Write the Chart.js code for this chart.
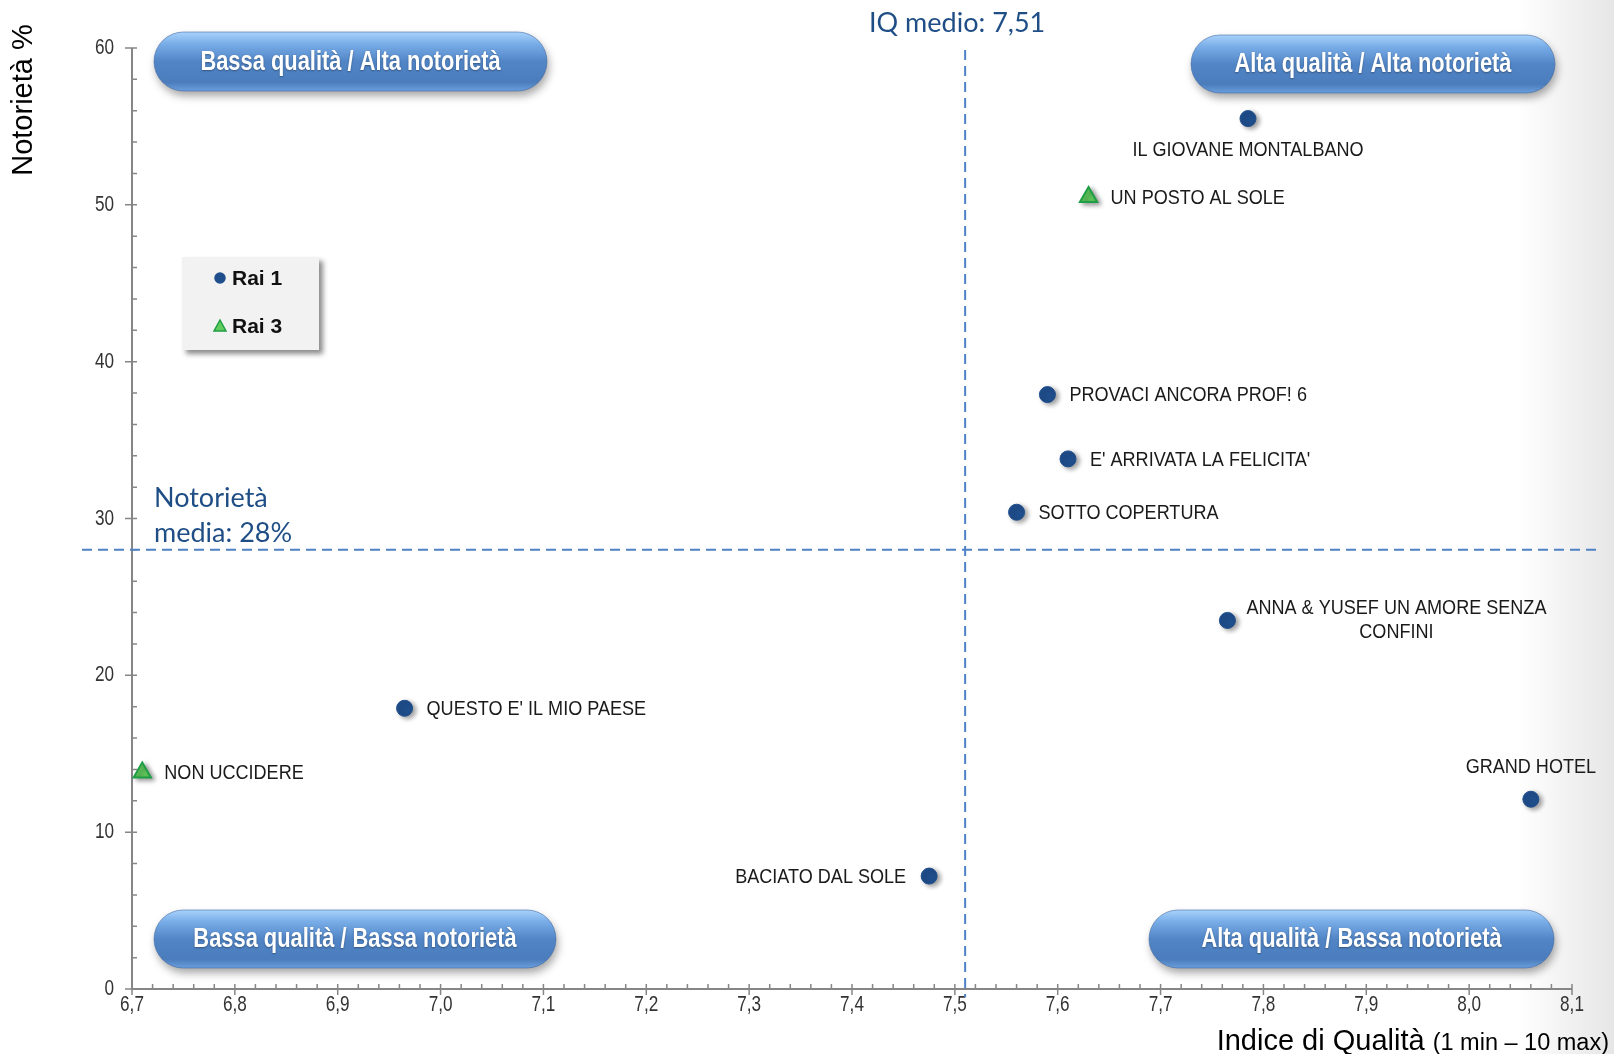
<!DOCTYPE html>
<html>
<head>
<meta charset="utf-8">
<script src="https://cdn.jsdelivr.net/npm/chart.js@4.4.1/dist/chart.umd.min.js"></script>
<style>
  html, body { margin: 0; padding: 0; }
  body {
    width: 1614px; height: 1054px; overflow: hidden;
    background: linear-gradient(to right, #ffffff 0%, #ffffff 94%, #e6e6e6 100%);
  }
  #wrap { position: relative; width: 1614px; height: 1054px; }
</style>
</head>
<body>
<div id="wrap"><canvas id="chart" width="1614" height="1054"></canvas></div>
<script>
// --- data ---
const rai1Names = ['IL GIOVANE MONTALBANO', 'PROVACI ANCORA PROF! 6', "E' ARRIVATA LA FELICITA'",
  'SOTTO COPERTURA', 'ANNA & YUSEF UN AMORE SENZA|CONFINI', "QUESTO E' IL MIO PAESE",
  'GRAND HOTEL', 'BACIATO DAL SOLE'];
const rai1Quality = [7.785, 7.59, 7.61, 7.56, 7.765, 6.965, 8.06, 7.475];
const rai1Notoriety = [55.5, 37.9, 33.8, 30.4, 23.5, 17.9, 12.1, 7.2];

const rai3Names = ['UN POSTO AL SOLE', 'NON UCCIDERE'];
const rai3Quality = [7.63, 6.71];
const rai3Notoriety = [50.5, 13.8];

const xTicks = [6.7, 6.8, 6.9, 7.0, 7.1, 7.2, 7.3, 7.4, 7.5, 7.6, 7.7, 7.8, 7.9, 8.0, 8.1];
const yTicks = [0, 10, 20, 30, 40, 50, 60];

const iqMedio = 7.51;
const notorietaMedia = 28;

const quadrantLabels = ['Bassa qualità / Alta notorietà', 'Alta qualità / Alta notorietà',
  'Bassa qualità / Bassa notorietà', 'Alta qualità / Bassa notorietà'];

// where each point's label sits relative to the marker
const rai1LabelPos = ['below', 'right', 'right', 'right', 'right2', 'right', 'above', 'left'];
const rai3LabelPos = ['right', 'right'];

const SANS = "'Liberation Sans', Arial, sans-serif";
const CALI = "Lato, 'Open Sans', sans-serif";
const AXIS = '#868686';
const DASH = '#4f81c7';

const toPoints = (xs, ys) => xs.map((x, i) => ({ x: x, y: ys[i] }));
const comma = (v, d) => v.toFixed(d).replace('.', ',');

// Arial-Narrow look: Liberation Sans squeezed horizontally
function narrow(ctx, text, x, y, sx) {
  ctx.save();
  ctx.translate(x, y);
  ctx.scale(sx, 1);
  ctx.fillText(text, 0, 0);
  ctx.restore();
}

function pill(ctx, x, y, w, h, text) {
  const r = h / 2;
  ctx.save();
  ctx.shadowColor = 'rgba(0,0,0,0.35)';
  ctx.shadowBlur = 9;
  ctx.shadowOffsetX = 2;
  ctx.shadowOffsetY = 5;
  ctx.beginPath();
  ctx.roundRect(x, y, w, h, r);
  const g = ctx.createLinearGradient(0, y, 0, y + h);
  g.addColorStop(0, '#a8d2fb');
  g.addColorStop(0.2, '#79ade8');
  g.addColorStop(0.5, '#5185c6');
  g.addColorStop(0.85, '#4b7dbd');
  g.addColorStop(1, '#6a9edc');
  ctx.fillStyle = g;
  ctx.fill();
  ctx.restore();
  ctx.save();
  ctx.beginPath();
  ctx.roundRect(x, y, w, h, r);
  ctx.strokeStyle = 'rgba(60,100,160,0.55)';
  ctx.lineWidth = 1;
  ctx.stroke();
  ctx.font = 'bold 27px ' + SANS;
  ctx.fillStyle = '#ffffff';
  ctx.textAlign = 'center';
  ctx.textBaseline = 'middle';
  ctx.shadowColor = 'rgba(0,0,0,0.35)';
  ctx.shadowBlur = 2;
  ctx.shadowOffsetY = 1;
  narrow(ctx, text, x + w / 2, y + h / 2 + 1, 0.81);
  ctx.restore();
}

const overlay = {
  id: 'overlay',
  beforeDatasetsDraw(chart) {
    const { ctx, chartArea: a, scales: { x, y } } = chart;
    ctx.save();
    // axes
    ctx.strokeStyle = AXIS;
    ctx.lineWidth = 2;
    ctx.beginPath();
    ctx.moveTo(a.left, a.top);
    ctx.lineTo(a.left, a.bottom);
    ctx.lineTo(a.right, a.bottom);
    ctx.stroke();
    ctx.lineWidth = 1.5;
    ctx.beginPath();
    for (let i = 0; i < yTicks.length; i++) {
      const py = y.getPixelForValue(yTicks[i]);
      ctx.moveTo(a.left - 7, py); ctx.lineTo(a.left + 5, py);
      if (i < yTicks.length - 1) {
        for (let k = 1; k < 5; k++) {
          const my = y.getPixelForValue(yTicks[i] + (yTicks[i + 1] - yTicks[i]) * k / 5);
          ctx.moveTo(a.left, my); ctx.lineTo(a.left + 5, my);
        }
      }
    }
    for (let i = 0; i < xTicks.length; i++) {
      const px = x.getPixelForValue(xTicks[i]);
      ctx.moveTo(px, a.bottom - 5); ctx.lineTo(px, a.bottom + 6);
      if (i < xTicks.length - 1) {
        for (let k = 1; k < 5; k++) {
          const mx = x.getPixelForValue(xTicks[i] + (xTicks[i + 1] - xTicks[i]) * k / 5);
          ctx.moveTo(mx, a.bottom); ctx.lineTo(mx, a.bottom - 5);
        }
      }
    }
    ctx.stroke();

    // tick labels
    ctx.fillStyle = '#333';
    ctx.font = '22px ' + SANS;
    ctx.textBaseline = 'middle';
    ctx.textAlign = 'right';
    yTicks.forEach(v => narrow(ctx, String(v), a.left - 18, y.getPixelForValue(v), 0.78));
    ctx.textAlign = 'center';
    xTicks.forEach(v => narrow(ctx, comma(v, 1), x.getPixelForValue(v), a.bottom + 16, 0.78));

    // average lines
    ctx.strokeStyle = DASH;
    ctx.lineWidth = 2;
    ctx.setLineDash([10, 6]);
    const vx = x.getPixelForValue(iqMedio);
    const hy = y.getPixelForValue(notorietaMedia);
    ctx.beginPath();
    ctx.moveTo(vx, a.top + 2); ctx.lineTo(vx, a.bottom + 8);
    ctx.moveTo(a.left - 50, hy); ctx.lineTo(a.right + 24, hy);
    ctx.stroke();
    ctx.setLineDash([]);

    ctx.fillStyle = '#1f4e86';
    ctx.font = '27px ' + CALI;
    ctx.textBaseline = 'middle';
    ctx.textAlign = 'center';
    ctx.fillText('IQ medio: ' + comma(iqMedio, 2), vx - 8, 23);
    ctx.textAlign = 'left';
    ctx.fillText('Notorietà', a.left + 22, hy - 52);
    ctx.fillText('media: ' + notorietaMedia + '%', a.left + 22, hy - 17);
    ctx.restore();
  },
  beforeDatasetDraw(chart) {
    const ctx = chart.ctx;
    ctx.save();
    ctx.shadowColor = 'rgba(0,0,0,0.4)';
    ctx.shadowBlur = 5;
    ctx.shadowOffsetX = 3;
    ctx.shadowOffsetY = 2;
  },
  afterDatasetDraw(chart) {
    chart.ctx.restore();
  },
  afterDatasetsDraw(chart) {
    const { ctx, chartArea: a } = chart;
    ctx.save();
    // point labels
    ctx.fillStyle = '#1a1a1a';
    ctx.font = '21px ' + SANS;
    ctx.textBaseline = 'middle';
    const sx = 0.86;
    chart.data.datasets.forEach((ds, di) => {
      const meta = chart.getDatasetMeta(di);
      meta.data.forEach((pt, j) => {
        const lines = ds.names[j].split('|');
        const pos = ds.labelPos[j];
        if (pos === 'right') {
          ctx.textAlign = 'left';
          narrow(ctx, lines[0], pt.x + 22, pt.y + 1, sx);
        } else if (pos === 'left') {
          ctx.textAlign = 'right';
          narrow(ctx, lines[0], pt.x - 23, pt.y + 1, sx);
        } else if (pos === 'below') {
          ctx.textAlign = 'center';
          narrow(ctx, lines[0], pt.x, pt.y + 32, sx);
        } else if (pos === 'above') {
          ctx.textAlign = 'center';
          narrow(ctx, lines[0], pt.x, pt.y - 32, sx);
        } else if (pos === 'right2') {
          ctx.textAlign = 'center';
          narrow(ctx, lines[0], pt.x + 169, pt.y - 12, sx);
          narrow(ctx, lines[1], pt.x + 169, pt.y + 12, sx);
        }
      });
    });

    // quadrant pills
    pill(ctx, a.left + 22, 32, 393, 59, quadrantLabels[0]);
    pill(ctx, a.right - 381, 35, 364, 58, quadrantLabels[1]);
    pill(ctx, a.left + 22, 910, 402, 58, quadrantLabels[2]);
    pill(ctx, a.right - 423, 910, 405, 58, quadrantLabels[3]);

    // legend box
    const lx = 182, ly = 257, lw = 137, lh = 93;
    ctx.save();
    ctx.shadowColor = 'rgba(0,0,0,0.45)';
    ctx.shadowBlur = 5;
    ctx.shadowOffsetX = 4;
    ctx.shadowOffsetY = 4;
    ctx.fillStyle = '#f2f2f2';
    ctx.fillRect(lx, ly, lw, lh);
    ctx.restore();
    chart.data.datasets.forEach((ds, di) => {
      const cy = ly + 21 + di * 48;
      ctx.fillStyle = ds.backgroundColor;
      ctx.strokeStyle = ds.borderColor;
      ctx.lineWidth = 1.5;
      ctx.beginPath();
      if (ds.pointStyle === 'circle') {
        ctx.arc(lx + 38, cy, 5, 0, Math.PI * 2);
      } else {
        ctx.moveTo(lx + 38, cy - 6); ctx.lineTo(lx + 44, cy + 5); ctx.lineTo(lx + 32, cy + 5); ctx.closePath();
      }
      ctx.fill(); ctx.stroke();
      ctx.fillStyle = '#111';
      ctx.font = 'bold 21px ' + SANS;
      ctx.textAlign = 'left';
      ctx.textBaseline = 'middle';
      ctx.fillText(ds.label, lx + 50, cy + 1);
    });

    // axis titles
    ctx.fillStyle = '#000';
    ctx.save();
    ctx.translate(24, 100);
    ctx.rotate(-Math.PI / 2);
    ctx.font = '29px ' + SANS;
    ctx.textAlign = 'center';
    ctx.textBaseline = 'middle';
    ctx.fillText('Notorietà %', 0, 0);
    ctx.restore();
    ctx.textBaseline = 'alphabetic';
    ctx.textAlign = 'right';
    ctx.font = '23.5px ' + SANS;
    const small = '(1 min – 10 max)';
    const sw = ctx.measureText(small).width;
    ctx.fillText(small, 1609, 1050);
    ctx.font = '29px ' + SANS;
    ctx.fillText('Indice di Qualità ', 1609 - sw, 1050);
    ctx.restore();
  }
};

const ctx = document.getElementById('chart');
const chart = new Chart(ctx, {
  type: 'scatter',
  data: {
    datasets: [
      {
        label: 'Rai 1',
        data: toPoints(rai1Quality, rai1Notoriety),
        names: rai1Names,
        labelPos: rai1LabelPos,
        pointStyle: 'circle',
        pointRadius: 8,
        pointHoverRadius: 8,
        backgroundColor: '#1f4e8c',
        borderColor: '#1f4e8c',
        borderWidth: 1,
        clip: false
      },
      {
        label: 'Rai 3',
        data: toPoints(rai3Quality, rai3Notoriety),
        names: rai3Names,
        labelPos: rai3LabelPos,
        pointStyle: 'triangle',
        pointRadius: 10,
        pointHoverRadius: 10,
        backgroundColor: '#62cc5e',
        borderColor: '#1e9e45',
        borderWidth: 2,
        clip: false
      }
    ]
  },
  options: {
    responsive: false,
    animation: false,
    events: [],
    layout: { padding: { left: 0, top: 48, right: 42, bottom: 0 } },
    plugins: {
      legend: { display: false },
      tooltip: { enabled: false },
      title: { display: false }
    },
    scales: {
      x: {
        type: 'linear',
        min: xTicks[0],
        max: xTicks[xTicks.length - 1],
        afterBuildTicks: s => { s.ticks = xTicks.map(v => ({ value: v })); },
        afterFit: s => { s.height = 65; },
        grid: { display: false },
        border: { display: false },
        ticks: { display: false }
      },
      y: {
        type: 'linear',
        min: yTicks[0],
        max: yTicks[yTicks.length - 1],
        afterBuildTicks: s => { s.ticks = yTicks.map(v => ({ value: v })); },
        afterFit: s => { s.width = 132; },
        grid: { display: false },
        border: { display: false },
        ticks: { display: false }
      }
    }
  },
  plugins: [overlay]
});
</script>
</body>
</html>
